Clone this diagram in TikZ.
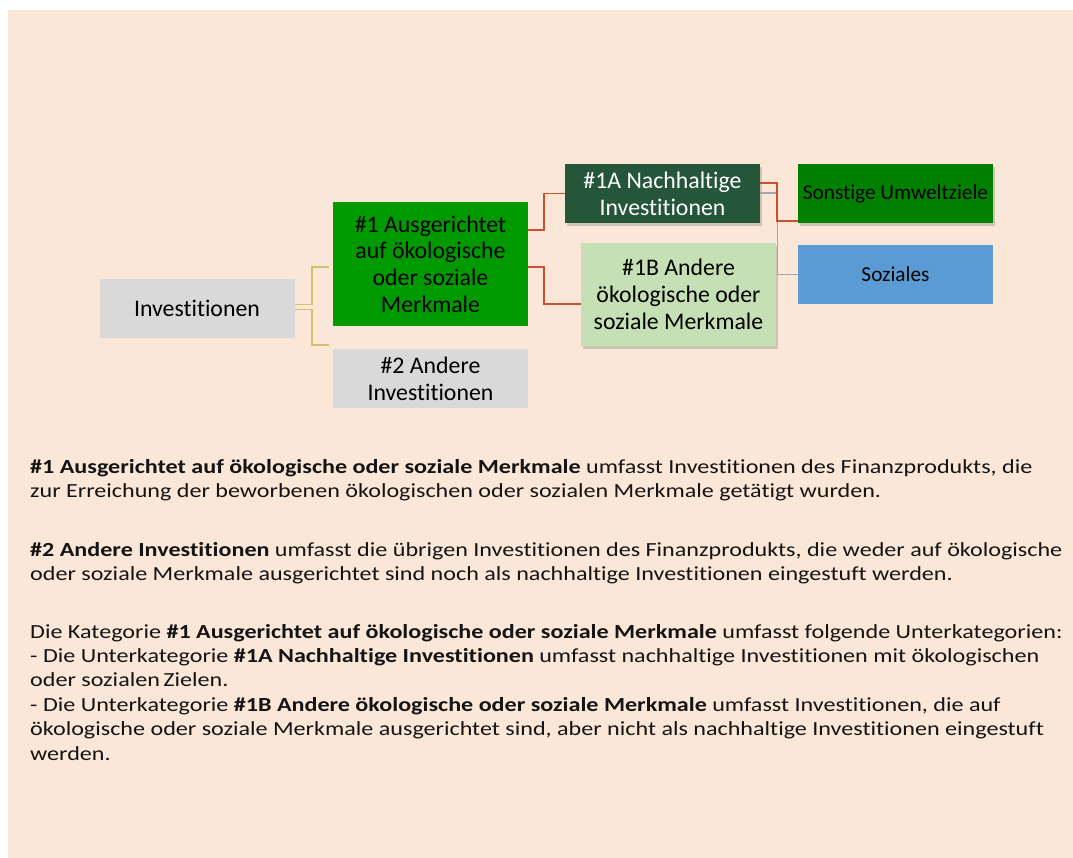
\documentclass[tikz,border=0pt]{standalone}
\usepackage{fontspec}
\setmainfont{Carlito}[Ligatures=NoCommon]
\newfontfamily\bodyfont{Carlito}[Ligatures=NoCommon, FakeStretch=1.205]
\usetikzlibrary{calc,shadows}
\definecolor{bgbeige}{RGB}{250,231,215}
\definecolor{boxgray}{RGB}{217,217,217}
\definecolor{greenA}{RGB}{0,153,0}
\definecolor{darkgreen}{RGB}{37,86,58}
\definecolor{lightgreen}{RGB}{197,224,180}
\definecolor{greenB}{RGB}{0,128,0}
\definecolor{blueS}{RGB}{91,155,213}
\definecolor{redline}{RGB}{200,82,48}
\definecolor{khaki}{RGB}{208,194,112}
\definecolor{grayline}{RGB}{166,166,166}
\definecolor{textblack}{RGB}{20,20,20}
\tikzset{
  box/.style={rectangle, inner sep=0pt, align=center, text=black,
    font=\fontsize{23.8}{26.7}\selectfont},
  smallbox/.style={box, font=\fontsize{21.3}{25}\selectfont},
  shadowed/.style={drop shadow={opacity=0.35, shadow xshift=2pt, shadow yshift=-3pt}},
  khakicon/.style={draw=khaki, line width=1.6pt},
  redcon/.style={draw=redline, line width=1.5pt},
  graycon/.style={draw=grayline, line width=1.3pt},
  bodytext/.style={anchor=base west, inner sep=0pt, text=textblack,
    font=\bodyfont\fontsize{20}{24.4}\selectfont}
}
\begin{document}
\begin{tikzpicture}[x=1pt,y=-1pt]
\useasboundingbox (0,0) rectangle (1073,858);
\fill[bgbeige] (8,10) rectangle (1073,858);

% diagram boxes
\node[box, fill=boxgray, minimum width=195, minimum height=59] (inv) at (197,308.5) {Investitionen};
\node[box, fill=greenA, minimum width=195, minimum height=124] (g1) at (430.5,264) {\#1 Ausgerichtet\\auf ökologische\\oder soziale\\Merkmale};
\node[box, fill=boxgray, minimum width=195, minimum height=59] (g2) at (430.5,378.5) {\#2 Andere\\Investitionen};
\node[box, shadowed, fill=darkgreen, text=white, minimum width=195, minimum height=59] (n1a) at (662.5,193.5) {\#1A Nachhaltige\\Investitionen};
\node[box, shadowed, fill=lightgreen, minimum width=195, minimum height=103] (n1b) at (678.5,294.5) {\#1B Andere\\ökologische oder\\soziale Merkmale};
\node[smallbox, shadowed, fill=greenB, minimum width=195, minimum height=59] (sonst) at (895.5,193.5) {Sonstige Umweltziele};
\node[smallbox, fill=blueS, minimum width=195, minimum height=59] (soz) at (895.5,274.5) {Soziales};

% connectors
\draw[khakicon] ($(inv.east)+(0,-4)$) -- ++(17,0) |- ($(g1.west)+(-4,3)$);
\draw[khakicon] ($(inv.east)+(0,1)$) -- ++(17,0) |- ($(g2.north west)+(-4,-4)$);
\draw[redcon] ($(g1.east)+(0,-34)$) -- ++(16,0) |- (n1a.west);
\draw[redcon] ($(g1.east)+(0,3)$) -- ++(16,0) |- ($(n1b.west)+(0,9.5)$);
\draw[graycon] ($(n1a.east)+(0,-0.5)$) -- ++(17,0) |- (soz.west);
\draw[redcon] ($(n1a.east)+(0,-10.5)$) -- ++(17,0) |- ($(sonst.west)+(0,27.5)$);

% body text
\node[bodytext] (t1) at (30,473) {\textbf{\#1 Ausgerichtet auf ökologische oder soziale Merkmale} umfasst Investitionen des Finanzprodukts, die};
\node[bodytext] (t2) at (30,497.4) {zur Erreichung der beworbenen ökologischen oder sozialen Merkmale getätigt wurden.};
\node[bodytext] (t3) at (30,556) {\textbf{\#2 Andere Investitionen} umfasst die übrigen Investitionen des Finanzprodukts, die weder auf ökologische};
\node[bodytext] (t4) at (30,580.4) {oder soziale Merkmale ausgerichtet sind noch als nachhaltige Investitionen eingestuft werden.};
\node[bodytext] (t5) at (30,638) {Die Kategorie \textbf{\#1 Ausgerichtet auf ökologische oder soziale Merkmale} umfasst folgende Unterkategorien:};
\node[bodytext] (t6) at (30,662.4) {- Die Unterkategorie \textbf{\#1A Nachhaltige Investitionen} umfasst nachhaltige Investitionen mit ökologischen};
\node[bodytext] (t7) at (30,686.8) {oder sozialen\,Zielen.};
\node[bodytext] (t8) at (30,711.2) {- Die Unterkategorie \textbf{\#1B Andere ökologische oder soziale Merkmale} umfasst Investitionen, die auf};
\node[bodytext] (t9) at (30,735.6) {ökologische oder soziale Merkmale ausgerichtet sind, aber nicht als nachhaltige Investitionen eingestuft};
\node[bodytext] (t10) at (30,760) {werden.};
\end{tikzpicture}
\end{document}
